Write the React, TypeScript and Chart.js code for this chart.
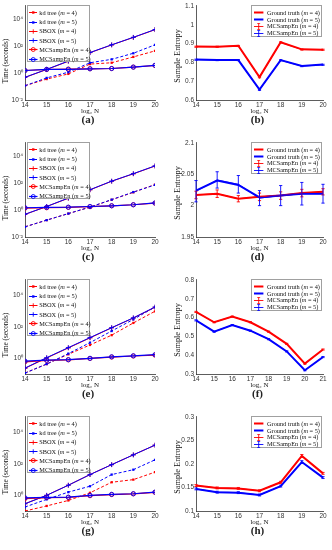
import React, { useEffect, useRef } from 'react';
import { Chart, registerables } from 'chart.js';

Chart.register(...registerables);

const RED = '#ff0000';
const BLUE = '#0000ff';
const AXIS = '#333333';
const SERIF = '"Liberation Serif", "Times New Roman", serif';
const SANS = '"Liberation Sans", Arial, sans-serif';

// ---------- x values (log2 N) ----------
const LOG2N = [14, 15, 16, 17, 18, 19, 20];
const LOG2N_F = [14, 15, 16, 17, 18, 19, 20, 21];

// ---------- (a) time, seconds ----------
const A_KD4 = [0.115, 0.36, 0.87, 4.7, 5.9, 16, 45];
const A_KD5 = [0.115, 0.44, 1.17, 5.9, 10.6, 30, 127];
const A_SBOX4 = [0.48, 1.85, 7.6, 33, 125, 450, 1700];
const A_SBOX5 = [0.49, 1.9, 7.9, 34, 127, 460, 1750];
const A_MC4 = [1.56, 1.86, 2.0, 2.1, 2.2, 2.8, 3.7];
const A_MC5 = [1.56, 1.9, 1.9, 2.1, 2.2, 2.8, 3.8];

// ---------- (c) time, seconds ----------
const C_KD4 = [0.057, 0.18, 0.55, 1.65, 5.9, 21, 80];
const C_KD5 = [0.057, 0.18, 0.55, 1.7, 6.0, 22, 75];
const C_SBOX4 = [0.48, 1.85, 7.6, 32, 140, 500, 1900];
const C_SBOX5 = [0.49, 1.86, 7.9, 33, 143, 515, 1950];
const C_MC4 = [1.4, 1.5, 1.6, 1.8, 2.1, 2.5, 3.3];
const C_MC5 = [1.5, 1.6, 1.65, 1.85, 2.1, 2.5, 3.4];

// ---------- (e) time, seconds ----------
const E_KD4 = [0.115, 0.43, 1.8, 7.1, 30, 180, 1000];
const E_KD5 = [0.115, 0.43, 2.0, 10, 55, 300, 1860];
const E_SBOX4 = [0.23, 1.05, 4.6, 20, 88, 370, 1800];
const E_SBOX5 = [0.24, 1.1, 4.8, 21, 90, 380, 1860];
const E_MC4 = [0.6, 0.74, 0.8, 0.98, 1.2, 1.4, 1.6];
const E_MC5 = [0.66, 0.76, 0.82, 1.0, 1.25, 1.45, 1.7];

// ---------- (g) time, seconds ----------
const G_KD4 = [0.1, 0.21, 0.47, 1.45, 6.8, 10, 30];
const G_KD5 = [0.18, 0.55, 1.6, 3.8, 21, 43, 183];
const G_SBOX4 = [0.29, 1.0, 4.4, 21, 90, 380, 1580];
const G_SBOX5 = [0.29, 1.0, 4.4, 21, 90, 380, 1580];
const G_MC4 = [0.62, 0.72, 0.74, 0.95, 1.12, 1.24, 1.55];
const G_MC5 = [0.69, 0.74, 0.76, 1.0, 1.15, 1.26, 1.6];

// ---------- (b) sample entropy ----------
const B_GT4 = [0.884, 0.883, 0.888, 0.722, 0.907, 0.869, 0.867];
const B_GT5 = [0.815, 0.812, 0.812, 0.655, 0.812, 0.781, 0.788];
const B_MC4 = [0.883, 0.883, 0.887, 0.721, 0.906, 0.868, 0.867];
const B_MC5 = [0.814, 0.812, 0.812, 0.654, 0.811, 0.780, 0.787];
const B_ERR4 = [0.003, 0.003, 0.003, 0.003, 0.003, 0.003, 0.003];
const B_ERR5 = [0.003, 0.003, 0.003, 0.003, 0.003, 0.003, 0.003];

// ---------- (d) sample entropy ----------
const D_GT4 = [2.017, 2.019, 2.011, 2.014, 2.016, 2.020, 2.022];
const D_GT5 = [2.024, 2.040, 2.033, 2.013, 2.016, 2.019, 2.019];
const D_MC4 = [2.017, 2.019, 2.011, 2.014, 2.016, 2.020, 2.022];
const D_MC5 = [2.023, 2.041, 2.034, 2.012, 2.016, 2.019, 2.019];
const D_ERR4 = [0.006, 0.006, 0.005, 0.006, 0.006, 0.006, 0.005];
const D_ERR5 = [0.017, 0.013, 0.014, 0.012, 0.016, 0.018, 0.015];

// ---------- (f) sample entropy ----------
const F_GT4 = [0.63, 0.575, 0.605, 0.575, 0.525, 0.46, 0.355, 0.43];
const F_GT5 = [0.585, 0.525, 0.56, 0.53, 0.485, 0.42, 0.32, 0.39];
const F_MC4 = [0.63, 0.575, 0.605, 0.575, 0.525, 0.46, 0.355, 0.43];
const F_MC5 = [0.585, 0.525, 0.56, 0.53, 0.485, 0.42, 0.32, 0.39];
const F_ERR = [0.003, 0.003, 0.003, 0.003, 0.003, 0.003, 0.003, 0.003];

// ---------- (h) sample entropy ----------
const H_GT4 = [0.154, 0.149, 0.148, 0.143, 0.161, 0.217, 0.18];
const H_GT5 = [0.147, 0.14, 0.139, 0.134, 0.153, 0.204, 0.171];
const H_MC4 = [0.154, 0.149, 0.148, 0.143, 0.161, 0.217, 0.18];
const H_MC5 = [0.147, 0.14, 0.139, 0.134, 0.153, 0.204, 0.171];
const H_ERR = [0.002, 0.002, 0.002, 0.002, 0.002, 0.003, 0.002];

// ---------- tick labels ----------
const TIME_TICKS_AC = [1e-2, 1, 1e2, 1e4];
const TIME_TICKS_EG = [1, 1e2, 1e4];
const B_TICKS = [0.6, 0.7, 0.8, 0.9, 1, 1.1];
const D_TICKS = [1.95, 2, 2.05, 2.1];
const F_TICKS = [0.3, 0.4, 0.5, 0.6, 0.7, 0.8];
const H_TICKS = [0.1, 0.15, 0.2, 0.25, 0.3];

const SUP: Record<string, string> = { '-': '⁻', '0': '⁰', '1': '¹', '2': '²', '3': '³', '4': '⁴', '5': '⁵' };
const powLabel = (v: number) => {
  const e = Math.round(Math.log10(v));
  return '10' + String(e).split('').map((c) => SUP[c] || c).join('');
};

const errorBarPlugin = {
  id: 'errorBars',
  afterDatasetsDraw(chart: any) {
    const ctx = chart.ctx;
    const xs = chart.scales.x;
    const ys = chart.scales.y;
    chart.data.datasets.forEach((ds: any) => {
      if (!ds.errors) return;
      ctx.save();
      ctx.strokeStyle = ds.borderColor;
      ctx.lineWidth = 0.9;
      ctx.setLineDash([]);
      ds.data.forEach((p: any, j: number) => {
        const x = xs.getPixelForValue(p.x);
        const y1 = ys.getPixelForValue(p.y - ds.errors[j]);
        const y2 = ys.getPixelForValue(p.y + ds.errors[j]);
        ctx.beginPath();
        ctx.moveTo(x, y1);
        ctx.lineTo(x, y2);
        ctx.moveTo(x - 1.6, y1);
        ctx.lineTo(x + 1.6, y1);
        ctx.moveTo(x - 1.6, y2);
        ctx.lineTo(x + 1.6, y2);
        ctx.stroke();
      });
      ctx.restore();
    });
  },
};

type Marker = 'rect' | 'cross' | 'circle' | 'err' | 'none';
interface SeriesDef {
  label: string;
  m: number;
  data: number[];
  color: string;
  width: number;
  dash?: number[];
  marker: Marker;
  errors?: number[];
}

const timeSeries = (kd4: number[], kd5: number[], s4: number[], s5: number[], m4: number[], m5: number[]): SeriesDef[] => [
  { label: 'kd tree', m: 4, data: kd4, color: RED, width: 1, dash: [3, 2], marker: 'rect' },
  { label: 'kd tree', m: 5, data: kd5, color: BLUE, width: 1, dash: [3, 2], marker: 'rect' },
  { label: 'SBOX', m: 4, data: s4, color: RED, width: 1, marker: 'cross' },
  { label: 'SBOX', m: 5, data: s5, color: BLUE, width: 1, marker: 'cross' },
  { label: 'MCSampEn', m: 4, data: m4, color: RED, width: 1.2, marker: 'circle' },
  { label: 'MCSampEn', m: 5, data: m5, color: BLUE, width: 1.2, marker: 'circle' },
];

const entSeries = (g4: number[], g5: number[], m4: number[], m5: number[], e4: number[], e5: number[]): SeriesDef[] => [
  { label: 'Ground truth', m: 4, data: g4, color: RED, width: 2, marker: 'none' },
  { label: 'Ground truth', m: 5, data: g5, color: BLUE, width: 2, marker: 'none' },
  { label: 'MCSampEn', m: 4, data: m4, color: RED, width: 0.9, marker: 'err', errors: e4 },
  { label: 'MCSampEn', m: 5, data: m5, color: BLUE, width: 0.9, marker: 'err', errors: e5 },
];

interface PanelDef {
  tag: string;
  col: number;
  row: number;
  xs: number[];
  series: SeriesDef[];
  log: boolean;
  yMin: number;
  yMax: number;
  yTicks: number[];
}

const PANELS: PanelDef[] = [
  { tag: '(a)', col: 0, row: 0, xs: LOG2N, series: timeSeries(A_KD4, A_KD5, A_SBOX4, A_SBOX5, A_MC4, A_MC5), log: true, yMin: 1e-2, yMax: 1e5, yTicks: TIME_TICKS_AC },
  { tag: '(b)', col: 1, row: 0, xs: LOG2N, series: entSeries(B_GT4, B_GT5, B_MC4, B_MC5, B_ERR4, B_ERR5), log: false, yMin: 0.6, yMax: 1.1, yTicks: B_TICKS },
  { tag: '(c)', col: 0, row: 1, xs: LOG2N, series: timeSeries(C_KD4, C_KD5, C_SBOX4, C_SBOX5, C_MC4, C_MC5), log: true, yMin: 1e-2, yMax: 1e5, yTicks: TIME_TICKS_AC },
  { tag: '(d)', col: 1, row: 1, xs: LOG2N, series: entSeries(D_GT4, D_GT5, D_MC4, D_MC5, D_ERR4, D_ERR5), log: false, yMin: 1.95, yMax: 2.1, yTicks: D_TICKS },
  { tag: '(e)', col: 0, row: 2, xs: LOG2N, series: timeSeries(E_KD4, E_KD5, E_SBOX4, E_SBOX5, E_MC4, E_MC5), log: true, yMin: 1e-1, yMax: 1e5, yTicks: TIME_TICKS_EG },
  { tag: '(f)', col: 1, row: 2, xs: LOG2N_F, series: entSeries(F_GT4, F_GT5, F_MC4, F_MC5, F_ERR, F_ERR), log: false, yMin: 0.3, yMax: 0.8, yTicks: F_TICKS },
  { tag: '(g)', col: 0, row: 3, xs: LOG2N, series: timeSeries(G_KD4, G_KD5, G_SBOX4, G_SBOX5, G_MC4, G_MC5), log: true, yMin: 1e-1, yMax: 1e5, yTicks: TIME_TICKS_EG },
  { tag: '(h)', col: 1, row: 3, xs: LOG2N, series: entSeries(H_GT4, H_GT5, H_MC4, H_MC5, H_ERR, H_ERR), log: false, yMin: 0.1, yMax: 0.3, yTicks: H_TICKS },
];

const ROW_TOP = [0, 137, 274, 411];
const PANEL_W = 166;
const CANVAS_H = 116;

function LegendSample({ s, w }: { s: SeriesDef; w: number }) {
  const h = 7;
  const cy = 3.5;
  const cx = w / 2;
  return (
    <svg width={w} height={h} style={{ display: 'block' }}>
      <line x1={0} y1={cy} x2={w} y2={cy} stroke={s.color} strokeWidth={s.width} strokeDasharray={s.dash ? s.dash.join(' ') : undefined} />
      {s.marker === 'rect' && <rect x={cx - 1.2} y={cy - 1.2} width={2.4} height={2.4} fill={s.color} />}
      {s.marker === 'cross' && (
        <g stroke={s.color} strokeWidth={0.9}>
          <line x1={cx - 2.2} y1={cy} x2={cx + 2.2} y2={cy} />
          <line x1={cx} y1={cy - 2.2} x2={cx} y2={cy + 2.2} />
        </g>
      )}
      {s.marker === 'circle' && <circle cx={cx} cy={cy} r={2} fill="none" stroke={s.color} strokeWidth={0.9} />}
      {s.marker === 'err' && (
        <g stroke={s.color} strokeWidth={0.9}>
          <line x1={cx} y1={0.3} x2={cx} y2={h - 0.3} />
          <line x1={cx - 1.5} y1={0.3} x2={cx + 1.5} y2={0.3} />
          <line x1={cx - 1.5} y1={h - 0.3} x2={cx + 1.5} y2={h - 0.3} />
        </g>
      )}
    </svg>
  );
}

function Legend({ series, time }: { series: SeriesDef[]; time: boolean }) {
  const box = time
    ? { left: 27, top: 5, width: 63, height: 57, row0: 6.7, step: 9.3, sx: 1.3, sw: 8.5, tx: 11.3 }
    : { left: 85, top: 5, width: 71, height: 32, row0: 6.9, step: 6.8, sx: 2.3, sw: 9.4, tx: 15 };
  return (
    <div
      style={{
        position: 'absolute',
        left: box.left,
        top: box.top,
        width: box.width,
        height: box.height,
        boxSizing: 'border-box',
        border: '0.7px solid #a0a0a0',
        background: '#ffffff',
      }}
    >
      {series.map((s, i) => (
        <div key={i} style={{ position: 'absolute', left: 0, top: box.row0 + i * box.step - 3.5, height: 7, width: box.width }}>
          <div style={{ position: 'absolute', left: box.sx, top: 0 }}>
            <LegendSample s={s} w={box.sw} />
          </div>
          <div
            style={{
              position: 'absolute',
              left: box.tx,
              top: -0.6,
              fontFamily: SERIF,
              fontSize: 6.3,
              lineHeight: '7px',
              whiteSpace: 'nowrap',
              color: '#111',
            }}
          >
            {s.label} (<i>m</i> = {s.m})
          </div>
        </div>
      ))}
    </div>
  );
}

function Panel({ p }: { p: PanelDef }) {
  const ref = useRef<HTMLCanvasElement | null>(null);
  const left = p.col * PANEL_W;
  const top = ROW_TOP[p.row];
  const plotLeft = p.col === 0 ? 25 : 30;
  const plotRight = p.col === 0 ? 155 : 157;
  const isTime = p.log;

  useEffect(() => {
    if (!ref.current) return;
    const n = p.series.length;
    const datasets = p.series.map((s, i) => ({
      label: s.label + ' (m = ' + s.m + ')',
      data: p.xs.map((x, j) => ({ x, y: s.data[j] })),
      borderColor: s.color,
      backgroundColor: s.color,
      borderWidth: s.width,
      borderDash: s.dash || [],
      pointStyle: s.marker === 'rect' ? 'rect' : s.marker === 'cross' ? 'cross' : 'circle',
      pointRadius: s.marker === 'rect' ? 1.6 : s.marker === 'cross' ? 2.4 : s.marker === 'circle' ? 2.1 : 0,
      pointBorderWidth: s.marker === 'rect' ? 0 : 0.9,
      pointBorderColor: s.color,
      pointBackgroundColor: s.marker === 'rect' ? s.color : 'rgba(255,255,255,0)',
      pointHoverRadius: 0,
      tension: 0,
      fill: false,
      errors: s.errors,
      order: n - i,
    }));
    const tickValues = p.yTicks;
    const xTickValues = p.xs;
    const chart = new Chart(ref.current, {
      type: 'line',
      data: { datasets } as any,
      plugins: [errorBarPlugin],
      options: {
        animation: false,
        responsive: false,
        devicePixelRatio: 1,
        events: [],
        layout: { padding: { top: 5, right: PANEL_W - plotRight, left: 0, bottom: 0 } },
        plugins: { legend: { display: false }, tooltip: { enabled: false }, title: { display: false } },
        scales: {
          x: {
            type: 'linear',
            min: p.xs[0],
            max: p.xs[p.xs.length - 1],
            afterBuildTicks: (s: any) => {
              s.ticks = xTickValues.map((v) => ({ value: v }));
            },
            afterFit: (s: any) => {
              s.height = CANVAS_H - 100;
            },
            ticks: {
              font: { family: SANS, size: 6.5 },
              color: AXIS,
              padding: 1,
              maxRotation: 0,
              autoSkip: false,
              callback: (v: any) => String(v),
            },
            grid: { display: false, drawTicks: false },
            border: { display: true, color: AXIS, width: 0.8 },
            title: {
              display: true,
              text: 'log₂ N',
              font: { family: SERIF, size: 7 },
              color: '#111',
              padding: { top: 0, bottom: 1 },
            },
          },
          y: {
            type: p.log ? 'logarithmic' : 'linear',
            min: p.yMin,
            max: p.yMax,
            afterBuildTicks: (s: any) => {
              s.ticks = tickValues.map((v) => ({ value: v, major: true }));
            },
            afterFit: (s: any) => {
              s.width = plotLeft;
            },
            ticks: {
              font: { family: SANS, size: 6.5 },
              color: AXIS,
              padding: 2,
              autoSkip: false,
              callback: (v: any) => (p.log ? powLabel(Number(v)) : String(Math.round(Number(v) * 1000) / 1000)),
            },
            grid: { display: false, drawTicks: false },
            border: { display: true, color: AXIS, width: 0.8 },
          },
        },
      } as any,
    });
    return () => chart.destroy();
  }, []);

  const plotCenter = (plotLeft + plotRight) / 2;
  return (
    <div style={{ position: 'absolute', left, top, width: PANEL_W, height: 137 }}>
      <canvas ref={ref} width={PANEL_W} height={CANVAS_H} style={{ position: 'absolute', left: 0, top: 0, width: PANEL_W, height: CANVAS_H }} />
      <div
        style={{
          position: 'absolute',
          left: isTime ? 7 : 11.7,
          top: isTime ? 61 : 55.5,
          transform: 'translate(-50%, -50%) rotate(-90deg)',
          fontFamily: SERIF,
          fontSize: isTime ? 7.2 : 8.3,
          whiteSpace: 'nowrap',
          color: '#111',
          lineHeight: 1,
        }}
      >
        {isTime ? 'Time (seconds)' : 'Sample Entropy'}
      </div>
      <Legend series={p.series} time={isTime} />
      <div
        style={{
          position: 'absolute',
          left: plotCenter - 2,
          top: 119,
          transform: 'translate(-50%, -50%)',
          fontFamily: SERIF,
          fontWeight: 'bold',
          fontSize: 11,
          whiteSpace: 'nowrap',
          color: '#222',
          lineHeight: 1,
        }}
      >
        {p.tag}
      </div>
    </div>
  );
}

export default function App() {
  return (
    <div style={{ position: 'absolute', left: 0, top: 0, width: 332, height: 550, background: '#ffffff', overflow: 'hidden' }}>
      {PANELS.map((p) => (
        <Panel key={p.tag} p={p} />
      ))}
    </div>
  );
}
